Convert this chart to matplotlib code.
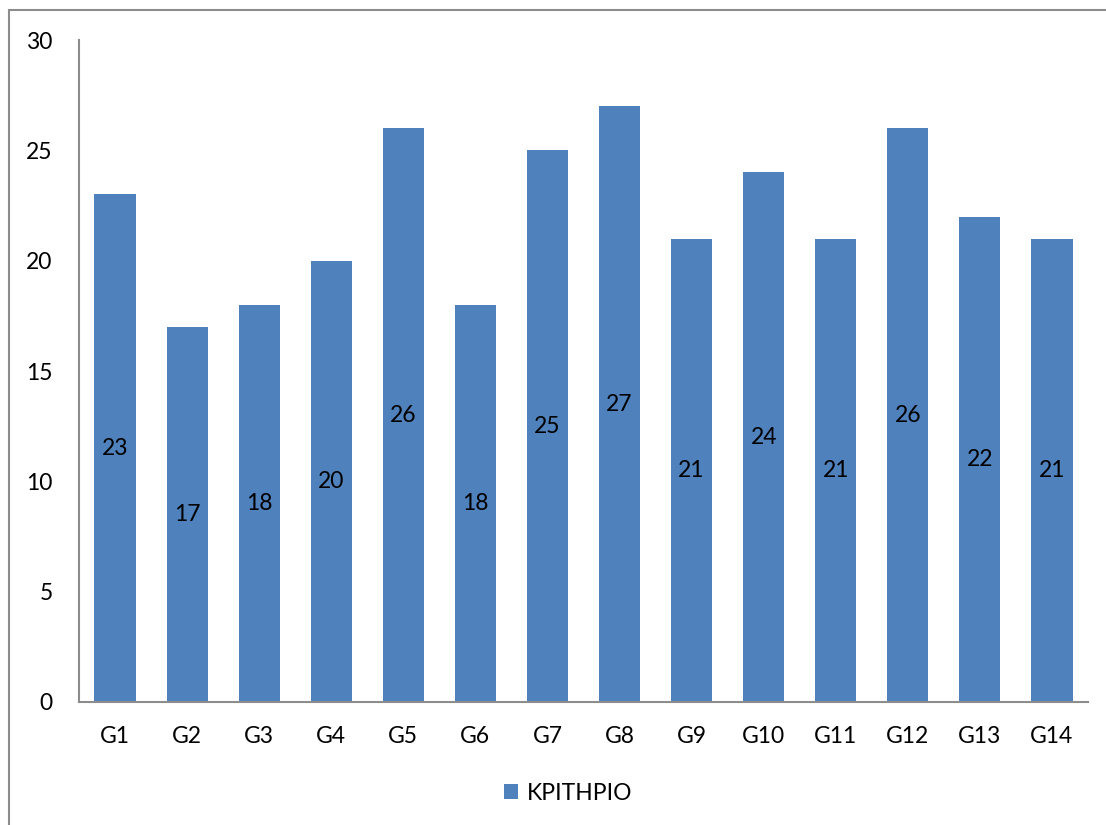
import matplotlib.pyplot as plt
from matplotlib.patches import Rectangle

# Data
groups = ["G1", "G2", "G3", "G4", "G5", "G6", "G7", "G8", "G9", "G10", "G11", "G12", "G13", "G14"]
values = [23, 17, 18, 20, 26, 18, 25, 27, 21, 24, 21, 26, 22, 21]
series_name = "ΚΡΙΤΗΡΙΟ"

plt.rcParams['font.family'] = ['Lato', 'DejaVu Sans']
fs = 16.5

W, H = 1106, 825
fig = plt.figure(figsize=(W / 100, H / 100), dpi=100)
ax = fig.add_axes([79 / W, 1 - 702 / H, (1088 - 79) / W, (702 - 40) / H])

bars = ax.bar(range(len(groups)), values, width=0.57, color='#4F81BD', label=series_name)
for b, v in zip(bars, values):
    ax.text(b.get_x() + b.get_width() / 2, v / 2, str(v), ha='center', va='center',
            fontsize=fs, color='black')

ax.set_xlim(-0.5, len(groups) - 0.5)
ax.set_ylim(0, 30)
ax.set_yticks(range(0, 31, 5))
ax.set_xticks(range(len(groups)))
ax.set_xticklabels(groups)
ax.tick_params(axis='both', length=0, labelsize=fs)
ax.tick_params(axis='y', pad=19)
ax.tick_params(axis='x', pad=17)
for side in ['top', 'right']:
    ax.spines[side].set_visible(False)
for side in ['left', 'bottom']:
    ax.spines[side].set_color('#8c8c8c')
    ax.spines[side].set_linewidth(1.5)

ax.legend(loc='center', bbox_to_anchor=(568 / W, 1 - 793 / H), bbox_transform=fig.transFigure,
          frameon=False, fontsize=fs, handlelength=0.6, handleheight=0.6, handletextpad=0.4)

# outer chart border
fig.patches.append(Rectangle((9 / W, -0.1), 1.2, 1 - 10 / H + 0.1, transform=fig.transFigure,
                             fill=False, edgecolor='#8c8c8c', linewidth=1.5))

fig.savefig('out.png', dpi=100)
